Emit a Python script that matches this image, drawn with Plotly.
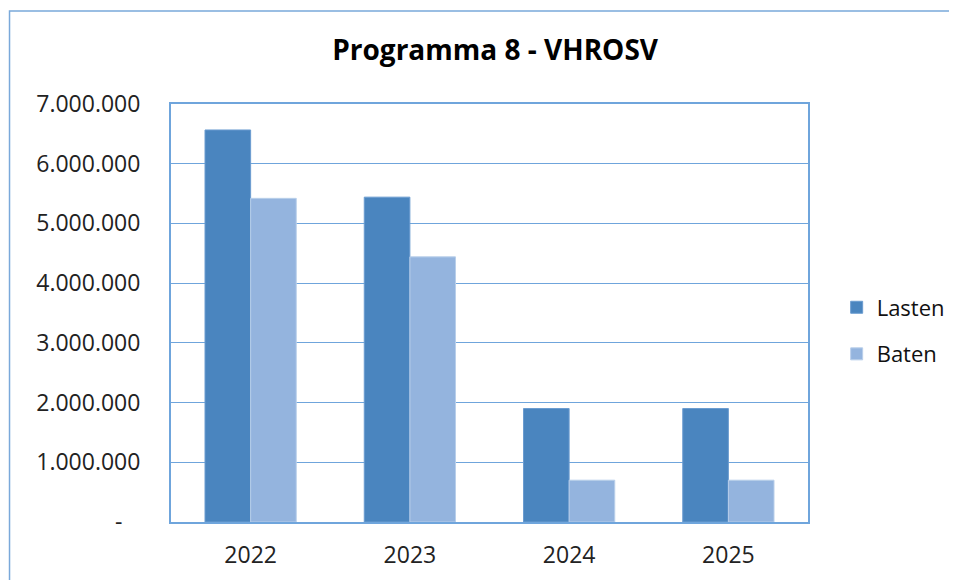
import plotly.graph_objects as go

# data
jaren = ["2022", "2023", "2024", "2025"]
lasten = [6565000, 5440000, 1900000, 1900000]
baten = [5420000, 4440000, 700000, 700000]

tick_vals = [0, 1000000, 2000000, 3000000, 4000000, 5000000, 6000000, 7000000]
tick_text = ["-\u00a0\u00a0\u00a0", "1.000.000", "2.000.000", "3.000.000",
             "4.000.000", "5.000.000", "6.000.000", "7.000.000"]

font = "'Open Sans', Lato, sans-serif"
blauw = "#6fa5dc"

fig = go.Figure()
fig.add_trace(go.Bar(
    x=jaren, y=lasten, name="Lasten", legendgroup="l",
    marker=dict(color="#4a85bf", line=dict(color="#6b9cd0", width=1)),
))
fig.add_trace(go.Bar(
    x=jaren, y=baten, name="Baten", legendgroup="b",
    marker=dict(color="#94b4de", line=dict(color="#b9cfea", width=1)),
))

# the page adds ~8px body margin, margins are corrected for that
fig.update_layout(
    width=957, height=580,
    margin=dict(l=163, r=157, t=96, b=66),
    paper_bgcolor="white", plot_bgcolor="white",
    barmode="group", bargap=0.427, bargroupgap=0,
    title=dict(text="<b>Programma 8 - VHROSV</b>", x=0.509, xanchor="center",
               y=0.9276, yanchor="middle",
               font=dict(family=font, size=28, color="black")),
    font=dict(family=font, size=23, color="#222222"),
    legend=dict(x=1.045, y=0.457, xanchor="left", yanchor="middle",
                font=dict(size=22, color="#111111"), tracegroupgap=15,
                bgcolor="rgba(0,0,0,0)"),
    showlegend=True,
)

fig.update_yaxes(
    range=[0, 7000000], tickvals=tick_vals, ticktext=tick_text,
    showgrid=True, gridcolor=blauw, gridwidth=1.3,
    showline=True, linecolor=blauw, linewidth=2, mirror=True,
    ticks="", ticklabelstandoff=24, zeroline=False,
)
fig.update_xaxes(
    showline=True, linecolor=blauw, linewidth=2, mirror=True,
    ticks="", ticklabelstandoff=11,
)

# outer chart frame
fig.add_shape(type="rect", xref="paper", yref="paper",
              x0=-0.2535, x1=1.35, y0=-0.3, y1=1.2225,
              line=dict(color="#7aa9da", width=1.5), layer="below")

fig.write_html("out.html")
